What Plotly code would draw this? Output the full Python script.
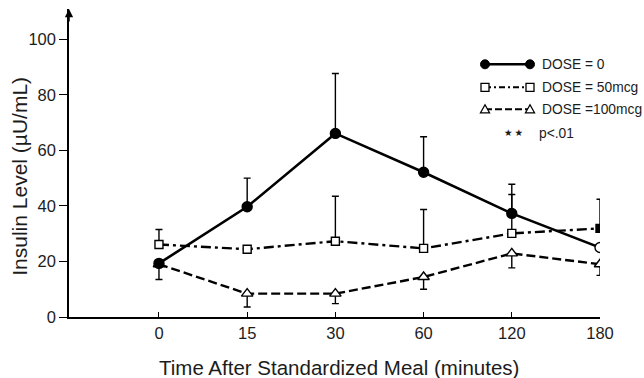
import plotly.graph_objects as go

# ---- data ----
times = ["0", "15", "30", "60", "120", "180"]

dose0 = [19.3, 39.7, 66.1, 52.1, 37.3, 25.0]
dose0_err_up = [0, 10.3, 21.6, 12.8, 10.5, 0]
dose0_err_down = [5.8, 0, 0, 0, 0, 0]

dose50 = [26.1, 24.4, 27.3, 24.7, 30.1, 31.9]
dose50_err_up = [5.4, 0, 16.2, 14.0, 14.0, 10.5]
dose50_err_down = [0, 0, 0, 0, 0, 0]

dose100 = [19.0, 8.4, 8.4, 14.4, 22.9, 19.0]
dose100_err_up = [0, 0, 0, 0, 0, 0]
dose100_err_down = [0, 4.8, 3.6, 4.4, 5.2, 4.0]

series_names = ["DOSE = 0", "DOSE = 50mcg", "DOSE =100mcg"]
sig_label = "p<.01"
x_title = "Time After Standardized Meal (minutes)"
y_title = "Insulin Level (\u00b5U/mL)"
y_ticks = [0, 20, 40, 60, 80, 100]

# ---- layout geometry ----
W, H = 644, 378
L, R, T, B = 69, 44, 9, 61
PW, PH = W - L - R, H - T - B
FONT = "Liberation Sans, Arial, Helvetica, sans-serif"
INK = "#1c1c1c"


def px_x(px):
    return (px - L) / PW


def px_y(py):
    return (H - B - py) / PH


fig = go.Figure()

ebar = dict(type="data", symmetric=False, color="black", thickness=1.4, width=3.5)

fig.add_trace(go.Scatter(
    x=times, y=dose100, mode="lines+markers", name=series_names[2],
    line=dict(color="black", width=2.4, dash="9px,4px"),
    marker=dict(symbol="triangle-up", size=10, color="white",
                line=dict(color="black", width=1.4)),
    error_y=dict(ebar, array=dose100_err_up, arrayminus=dose100_err_down),
))
fig.add_trace(go.Scatter(
    x=times, y=dose50, mode="lines+markers", name=series_names[1],
    line=dict(color="black", width=2.4, dash="10px,4px,3px,4px"),
    marker=dict(symbol="square", size=8,
                color=["white", "white", "white", "white", "white", "black"],
                line=dict(color="black", width=1.4)),
    error_y=dict(ebar, array=dose50_err_up, arrayminus=dose50_err_down),
))
fig.add_trace(go.Scatter(
    x=times, y=dose0, mode="lines+markers", name=series_names[0],
    line=dict(color="black", width=2.6),
    marker=dict(symbol="circle", size=10,
                color=["black", "black", "black", "black", "black", "white"],
                line=dict(color="black", width=1.4)),
    error_y=dict(ebar, array=dose0_err_up, arrayminus=dose0_err_down),
))

# ---- manual legend ----
shapes = []
annotations = []
leg_rows = [64.3, 87.3, 109.3]
leg_x0, leg_x1, leg_text_x = 485, 530, 540
leg_dash = ["solid", "6px,3px,2px,3px", "7px,3px"]
for i, yy in enumerate(leg_rows):
    shapes.append(dict(type="line", xref="paper", yref="paper",
                       x0=px_x(leg_x0), x1=px_x(leg_x1), y0=px_y(yy), y1=px_y(yy),
                       line=dict(color="black", width=2.4 if i == 0 else 2, dash=leg_dash[i])))
    for xx in (leg_x0, leg_x1):
        anchor = dict(xref="paper", yref="paper", xsizemode="pixel", ysizemode="pixel",
                      xanchor=px_x(xx), yanchor=px_y(yy))
        if i == 0:
            shapes.append(dict(type="circle", x0=-4.5, x1=4.5, y0=-4.5, y1=4.5,
                               fillcolor="black", line=dict(color="black", width=1), **anchor))
        elif i == 1:
            shapes.append(dict(type="rect", x0=-4, x1=4, y0=-4, y1=4,
                               fillcolor="white", line=dict(color="black", width=1.3), **anchor))
        else:
            shapes.append(dict(type="path", path="M -4.5,-3.5 L 4.5,-3.5 L 0,4.5 Z",
                               fillcolor="white", line=dict(color="black", width=1.3), **anchor))
    annotations.append(dict(xref="paper", yref="paper", x=px_x(leg_text_x), y=px_y(yy),
                            xanchor="left", yanchor="middle", showarrow=False,
                            text=series_names[i], font=dict(family=FONT, size=13.8, color=INK)))

annotations.append(dict(xref="paper", yref="paper", x=px_x(513.5), y=px_y(132.5),
                        xanchor="center", yanchor="middle", showarrow=False,
                        text="\u2605\u2009\u2605", font=dict(family="DejaVu Sans", size=9.5, color=INK)))
annotations.append(dict(xref="paper", yref="paper", x=px_x(536.5), y=px_y(133),
                        xanchor="left", yanchor="middle", showarrow=False,
                        text=sig_label, font=dict(family=FONT, size=13.8, color=INK)))

# significance stars above 30 min
annotations.append(dict(xref="x", yref="y", x=times[2], y=92.0,
                        xanchor="center", yanchor="middle", showarrow=False,
                        text="\u2605  \u2605", font=dict(family="DejaVu Sans", size=11, color=INK)))

# axis titles
annotations.append(dict(xref="paper", yref="y", x=0, y=50.5, xshift=20 - L,
                        xanchor="center", yanchor="middle", showarrow=False, textangle=-90,
                        text=y_title, font=dict(family=FONT, size=21, color=INK)))
annotations.append(dict(xref="paper", yref="paper", x=px_x(338.6), y=0, yshift=-50,
                        xanchor="center", yanchor="middle", showarrow=False,
                        text=x_title, font=dict(family=FONT, size=20.5, color=INK)))

# y-axis arrow head
annotations.append(dict(xref="paper", yref="paper", x=0, y=1, ax=0, ay=14,
                        text="", showarrow=True, arrowhead=2, arrowsize=1.1,
                        arrowwidth=1.5, arrowcolor="black", standoff=0))

fig.update_layout(
    width=W, height=H,
    margin=dict(l=L, r=R, t=T, b=B, pad=0),
    paper_bgcolor="white", plot_bgcolor="white",
    showlegend=False,
    shapes=shapes, annotations=annotations,
    font=dict(family=FONT, color=INK),
    xaxis=dict(type="category", range=[-1.02, 5.0], showgrid=False, zeroline=False,
               showline=True, linecolor="black", linewidth=1.5,
               ticks="inside", ticklen=5, tickwidth=1.4, tickcolor="black",
               tickfont=dict(family=FONT, size=16.5, color=INK)),
    yaxis=dict(range=[0, 110.9], showgrid=False, zeroline=False,
               showline=True, linecolor="black", linewidth=1.5,
               tickvals=y_ticks, ticks="outside", ticklen=8, tickwidth=1.4, tickcolor="black",
               tickfont=dict(family=FONT, size=16.5, color=INK)),
)

fig.write_html("out.html", config={"displayModeBar": False},
               post_script="document.body.style.margin='0';document.body.style.overflow='hidden';")
